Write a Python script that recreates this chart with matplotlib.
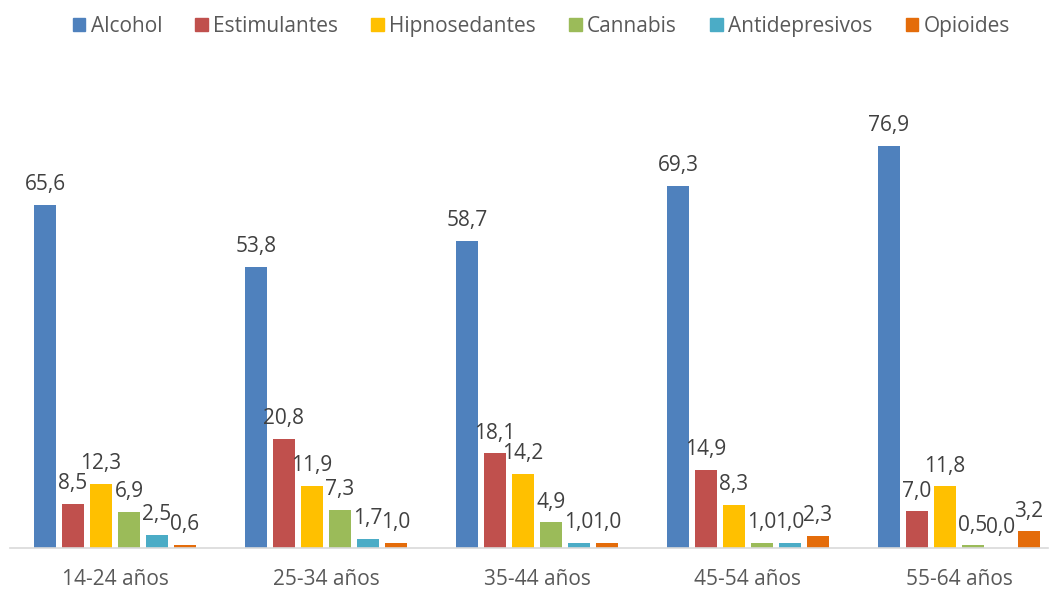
import numpy as np
import matplotlib.pyplot as plt
from matplotlib.patches import Patch

plt.rcParams['font.family'] = ['Open Sans', 'DejaVu Sans']

groups = ["14-24 años", "25-34 años", "35-44 años", "45-54 años", "55-64 años"]
series = ["Alcohol", "Estimulantes", "Hipnosedantes", "Cannabis", "Antidepresivos", "Opioides"]
alcohol = [65.6, 53.8, 58.7, 69.3, 76.9]
estimulantes = [8.5, 20.8, 18.1, 14.9, 7.0]
hipnosedantes = [12.3, 11.9, 14.2, 8.3, 11.8]
cannabis = [6.9, 7.3, 4.9, 1.0, 0.5]
antidepresivos = [2.5, 1.7, 1.0, 1.0, 0.0]
opioides = [0.6, 1.0, 1.0, 2.3, 3.2]
colors = ["#4F81BD", "#C0504D", "#FFC000", "#9BBB59", "#4BACC6", "#E46C0A"]

values = [alcohol, estimulantes, hipnosedantes, cannabis, antidepresivos, opioides]

fig = plt.figure(figsize=(10.51, 5.9), dpi=100)
ax = fig.add_axes([10 / 1051, 1 - 548 / 590, 1038 / 1051, 444.6 / 590])

x = np.arange(len(groups))
pitch = 28 / 211
width = 22 / 211
for i, (name, vals, c) in enumerate(zip(series, values, colors)):
    pos = x + (i - 2.5) * pitch
    ax.bar(pos, vals, width=width, color=c, label=name)
    for px, v in zip(pos, vals):
        ax.annotate(f"{v:.1f}".replace(".", ","), (px, v), xytext=(0, 7),
                    textcoords="offset points", ha="center", va="bottom",
                    fontsize=15, color="#404040")

ax.set_xlim(-105 / 211, -105 / 211 + 1038 / 211)
ax.set_ylim(0, 85)
ax.set_xticks(x)
ax.set_xticklabels(groups, fontsize=15, color="#595959")
ax.tick_params(axis="x", length=0, pad=15)
ax.set_yticks([])
for s in ["top", "left", "right"]:
    ax.spines[s].set_visible(False)
ax.spines["bottom"].set_color("#D9D9D9")
ax.spines["bottom"].set_linewidth(1.2)

handles = [Patch(color=c, label=n) for n, c in zip(series, colors)]
leg = fig.legend(handles=handles, loc="center", bbox_to_anchor=(0.515, 0.955), ncol=6,
                 frameon=False, fontsize=15, handlelength=0.6, handleheight=0.6,
                 handletextpad=0.25, columnspacing=1.6)
for t in leg.get_texts():
    t.set_color("#595959")

fig.savefig("out.png", dpi=100)
